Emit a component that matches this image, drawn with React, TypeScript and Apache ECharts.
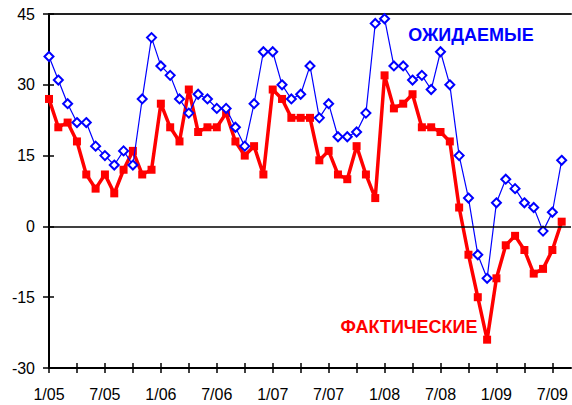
import React, { useEffect, useRef } from "react";
import * as echarts from "echarts";

const months = [
  "1/05", "2/05", "3/05", "4/05", "5/05", "6/05", "7/05", "8/05", "9/05", "10/05", "11/05", "12/05",
  "1/06", "2/06", "3/06", "4/06", "5/06", "6/06", "7/06", "8/06", "9/06", "10/06", "11/06", "12/06",
  "1/07", "2/07", "3/07", "4/07", "5/07", "6/07", "7/07", "8/07", "9/07", "10/07", "11/07", "12/07",
  "1/08", "2/08", "3/08", "4/08", "5/08", "6/08", "7/08", "8/08", "9/08", "10/08", "11/08", "12/08",
  "1/09", "2/09", "3/09", "4/09", "5/09", "6/09", "7/09", "8/09", "9/09",
];

const expected = [
  36, 31, 26, 22, 22, 17, 15, 13, 16, 13, 27, 40,
  34, 32, 27, 24, 28, 27, 25, 25, 21, 17, 26, 37,
  37, 30, 27, 28, 34, 23, 26, 19, 19, 20, 24, 43,
  44, 34, 34, 31, 32, 29, 37, 30, 15, 6, -6, -11,
  5, 10, 8, 5, 4, -1, 3, 14,
];

const actual = [
  27, 21, 22, 18, 11, 8, 11, 7, 12, 16, 11, 12,
  26, 21, 18, 29, 20, 21, 21, 24, 18, 15, 17, 11,
  29, 27, 23, 23, 23, 14, 16, 11, 10, 17, 11, 6,
  32, 25, 26, 28, 21, 21, 20, 18, 4, -6, -15, -24,
  -11, -4, -2, -5, -10, -9, -5, 1,
];

const yMin = -30;
const yMax = 45;
const yStep = 15;

const labelExpected = "ОЖИДАЕМЫЕ";
const labelActual = "ФАКТИЧЕСКИЕ";

const FONT = '"Liberation Sans", Arial, sans-serif';

export default function App() {
  const ref = useRef<HTMLDivElement>(null);

  useEffect(() => {
    if (!ref.current) return;
    const chart = echarts.init(ref.current, null, { renderer: "svg" });
    const tickStyle = { color: "#000", width: 1.5 };
    chart.setOption({
      animation: false,
      backgroundColor: "#fff",
      textStyle: { fontFamily: FONT },
      grid: { left: 49, right: 1, top: 14, bottom: 37, outerBoundsMode: "none" },
      xAxis: [
        {
          type: "category",
          data: months,
          boundaryGap: false,
          position: "bottom",
          axisLine: { onZero: false, lineStyle: { color: "#000", width: 2 } },
          axisTick: { interval: 2, length: 5, lineStyle: tickStyle },
          axisLabel: { interval: 5, color: "#000", fontSize: 16, margin: 18, fontFamily: FONT },
          splitLine: { show: false },
        },
        {
          type: "category",
          data: months,
          boundaryGap: false,
          position: "bottom",
          axisLine: { show: false, onZero: false },
          axisTick: { interval: 2, inside: true, length: 5, lineStyle: tickStyle },
          axisLabel: { show: false },
          splitLine: { show: false },
        },
        {
          type: "category",
          data: months,
          boundaryGap: false,
          position: "top",
          axisLine: { onZero: false, lineStyle: { color: "#222", width: 2 } },
          axisTick: { show: false },
          axisLabel: { show: false },
          splitLine: { show: false },
        },
      ],
      yAxis: [
        {
          type: "value",
          min: yMin,
          max: yMax,
          interval: yStep,
          position: "left",
          axisLine: { show: true, onZero: false, lineStyle: { color: "#000", width: 2 } },
          axisTick: { show: true, length: 6, lineStyle: tickStyle },
          axisLabel: { color: "#000", fontSize: 16, margin: 14, fontFamily: FONT },
          splitLine: { show: false },
        },
        {
          type: "value",
          min: yMin,
          max: yMax,
          interval: yStep,
          position: "left",
          axisLine: { show: false, onZero: false },
          axisTick: { show: true, inside: true, length: 5, lineStyle: tickStyle },
          axisLabel: { show: false },
          splitLine: { show: false },
        },
      ],
      series: [
        {
          type: "line",
          name: labelActual,
          data: actual,
          xAxisIndex: 0,
          yAxisIndex: 0,
          symbol: "rect",
          symbolSize: 8,
          showSymbol: true,
          showAllSymbol: true,
          itemStyle: { color: "#ff0000" },
          lineStyle: { color: "#ff0000", width: 3.5 },
          z: 2,
          markLine: {
            silent: true,
            symbol: "none",
            label: { show: false },
            lineStyle: { color: "#000", width: 1.5, type: "solid" },
            data: [{ yAxis: 0 }],
          },
        },
        {
          type: "line",
          name: labelExpected,
          data: expected,
          xAxisIndex: 0,
          yAxisIndex: 0,
          symbol: "emptyDiamond",
          symbolSize: 9,
          showSymbol: true,
          showAllSymbol: true,
          itemStyle: { color: "#0000ff", borderWidth: 1.5 },
          lineStyle: { color: "#0000ff", width: 1.2 },
          z: 3,
        },
      ],
      graphic: [
        {
          type: "text",
          x: 471,
          y: 35,
          style: {
            text: labelExpected,
            fill: "#0000ff",
            fontSize: 18,
            fontWeight: "bold",
            fontFamily: FONT,
            align: "center",
            verticalAlign: "middle",
          },
        },
        {
          type: "text",
          x: 409,
          y: 327,
          style: {
            text: labelActual,
            fill: "#ff0000",
            fontSize: 18,
            fontWeight: "bold",
            fontFamily: FONT,
            align: "center",
            verticalAlign: "middle",
          },
        },
      ],
    });
    return () => chart.dispose();
  }, []);

  return (
    <div
      ref={ref}
      style={{ position: "absolute", left: 0, top: 0, width: 572, height: 405 }}
    />
  );
}
